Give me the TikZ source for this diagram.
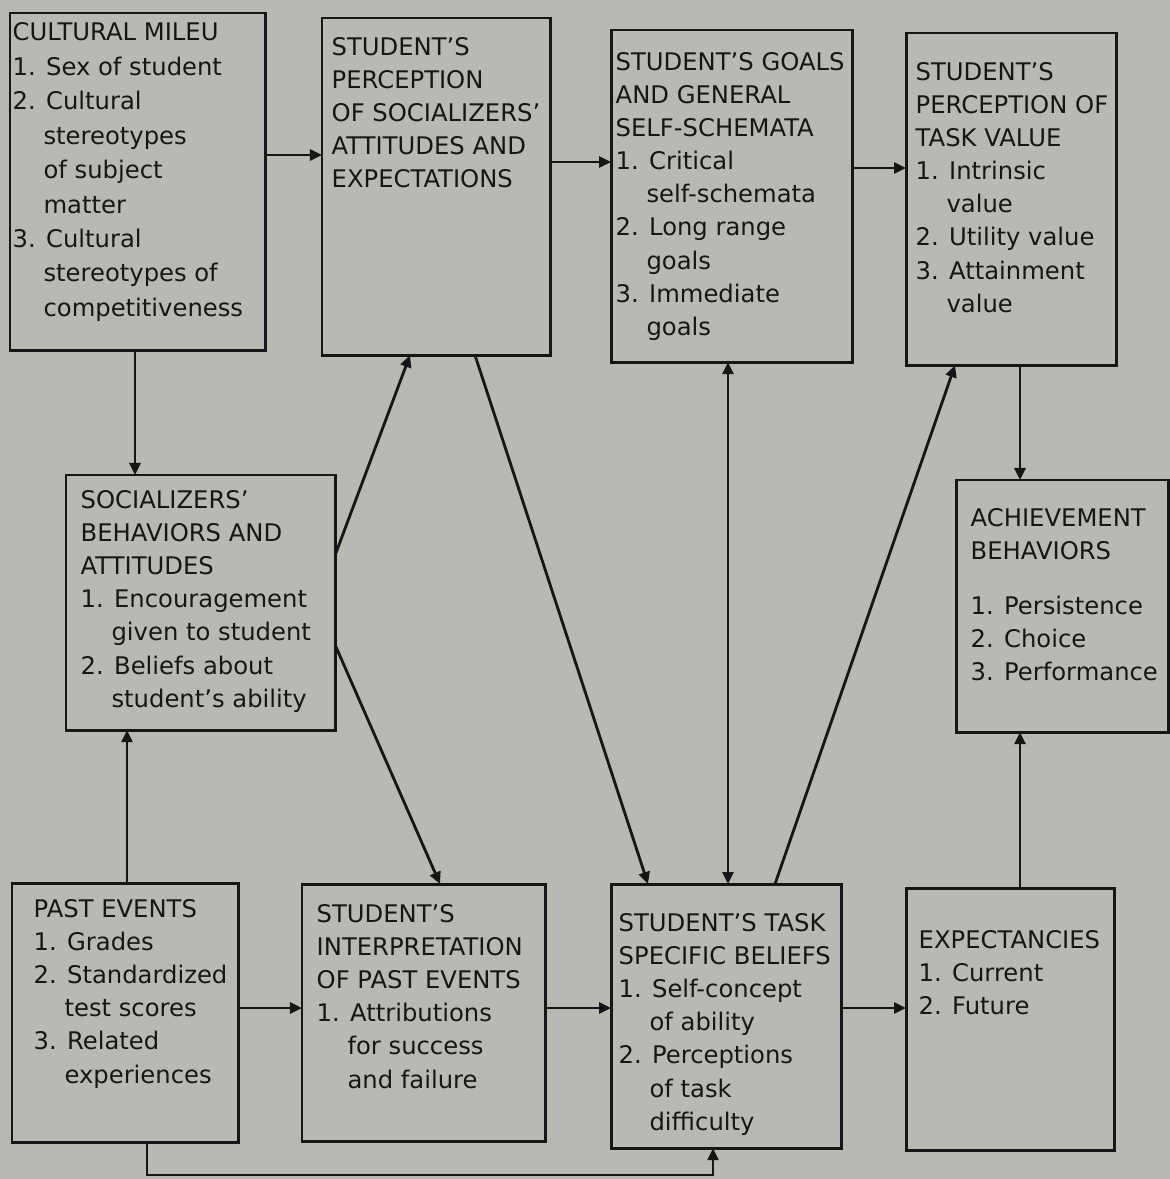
\documentclass[tikz,border=0pt]{standalone}
\usepackage{fontspec}
\setmainfont{DejaVu Sans}
\usetikzlibrary{arrows.meta}
\definecolor{paper}{RGB}{186,184,179}
\definecolor{ink}{RGB}{22,22,22}
\newcommand{\ind}{\phantom{1.\ }}

\begin{document}
\begin{tikzpicture}[x=0.01cm,y=-0.01cm,
  blk/.style={draw=ink,line width=0.85pt,inner sep=0pt,outer sep=0pt,anchor=north west},
  txt/.style={inner sep=0pt,anchor=north west,align=left,text=ink,font=\fontsize{6.9}{9.4}\selectfont},
  con/.style={draw=ink,line width=0.8pt,-{Triangle[length=1.2mm,width=1.1mm]}}]
\fill[paper] (0,0) rectangle (1170,1179);
\useasboundingbox (0,0) rectangle (1170,1179);

% top row
\node[blk,minimum width=2.55cm,minimum height=3.37cm] (mileu) at (10,13) {};
\node[blk,minimum width=2.28cm,minimum height=3.37cm] (perc) at (322,18) {};
\node[blk,minimum width=2.41cm,minimum height=3.32cm] (goals) at (611,30) {};
\node[blk,minimum width=2.10cm,minimum height=3.32cm] (tval) at (906,33) {};
% middle row
\node[blk,minimum width=2.69cm,minimum height=2.55cm] (socl) at (66,475) {};
\node[blk,minimum width=2.12cm,minimum height=2.52cm] (achv) at (956,480) {};
% bottom row
\node[blk,minimum width=2.26cm,minimum height=2.59cm] (past) at (12,883) {};
\node[blk,minimum width=2.43cm,minimum height=2.57cm] (intp) at (302,884) {};
\node[blk,minimum width=2.30cm,minimum height=2.64cm] (blf) at (611,884) {};
\node[blk,minimum width=2.08cm,minimum height=2.62cm] (expc) at (906,888) {};

\node[txt,font=\fontsize{6.9}{9.8}\selectfont] (mileutxt) at (12,22) {CULTURAL MILEU\\1. Sex of student\\2. Cultural\\\ind stereotypes\\\ind of subject\\\ind matter\\3. Cultural\\\ind stereotypes of\\\ind competitiveness};
\node[txt] (perctxt) at (331,37) {STUDENT'S\\PERCEPTION\\OF SOCIALIZERS'\\ATTITUDES AND\\EXPECTATIONS};
\node[txt] (goalstxt) at (615,52) {STUDENT'S GOALS\\AND GENERAL\\SELF-SCHEMATA\\1. Critical\\\ind self-schemata\\2. Long range\\\ind goals\\3. Immediate\\\ind goals};
\node[txt] (tvaltxt) at (915,62) {STUDENT'S\\PERCEPTION OF\\TASK VALUE\\1. Intrinsic\\\ind value\\2. Utility value\\3. Attainment\\\ind value};
\node[txt] (socltxt) at (80,490) {SOCIALIZERS'\\BEHAVIORS AND\\ATTITUDES\\1. Encouragement\\\ind given to student\\2. Beliefs about\\\ind student's ability};
\node[txt] (achvtxt) at (970,508) {ACHIEVEMENT\\BEHAVIORS\\[2.2mm]1. Persistence\\2. Choice\\3. Performance};
\node[txt] (pasttxt) at (33,899) {PAST EVENTS\\1. Grades\\2. Standardized\\\ind test scores\\3. Related\\\ind experiences};
\node[txt] (intptxt) at (316,904) {STUDENT'S\\INTERPRETATION\\OF PAST EVENTS\\1. Attributions\\\ind for success\\\ind and failure};
\node[txt] (blftxt) at (618,913) {STUDENT'S TASK\\SPECIFIC BELIEFS\\1. Self-concept\\\ind of ability\\2. Perceptions\\\ind of task\\\ind difficulty};
\node[txt] (expctxt) at (918,930) {EXPECTANCIES\\1. Current\\2. Future};

\draw[con] (mileu.east |- 0,155) -- (perc.west |- 0,155);
\draw[con] (perc.east |- 0,162) -- (goals.west |- 0,162);
\draw[con] (goals.east |- 0,168) -- (tval.west |- 0,168);
\draw[con] (mileu.south -| 135,0) -- (socl.north -| 135,0);
\draw[con] (tval.south -| 1020,0) -- (achv.north -| 1020,0);
\draw[con] (socl.east |- 0,555) -- (perc.south -| 410,0);
\draw[con] (perc.south -| 475,0) -- (blf.north -| 648,0);
\draw[con] (socl.east |- 0,645) -- (intp.north -| 440,0);
\draw[con,{Triangle[length=1.2mm,width=1.1mm]}-{Triangle[length=1.2mm,width=1.1mm]}] (goals.south -| 728,0) -- (blf.north -| 728,0);
\draw[con] (blf.north -| 775,0) -- (tval.south -| 955,0);
\draw[con] (past.north -| 127,0) -- (socl.south -| 127,0);
\draw[con] (past.east |- 0,1008) -- (intp.west |- 0,1008);
\draw[con] (intp.east |- 0,1008) -- (blf.west |- 0,1008);
\draw[con] (blf.east |- 0,1008) -- (expc.west |- 0,1008);
\draw[con] (expc.north -| 1020,0) -- (achv.south -| 1020,0);
\draw[con] (past.south -| 147,0) -- (147,1175) -| (blf.south -| 713,0); % feedback line
\end{tikzpicture}
\end{document}
